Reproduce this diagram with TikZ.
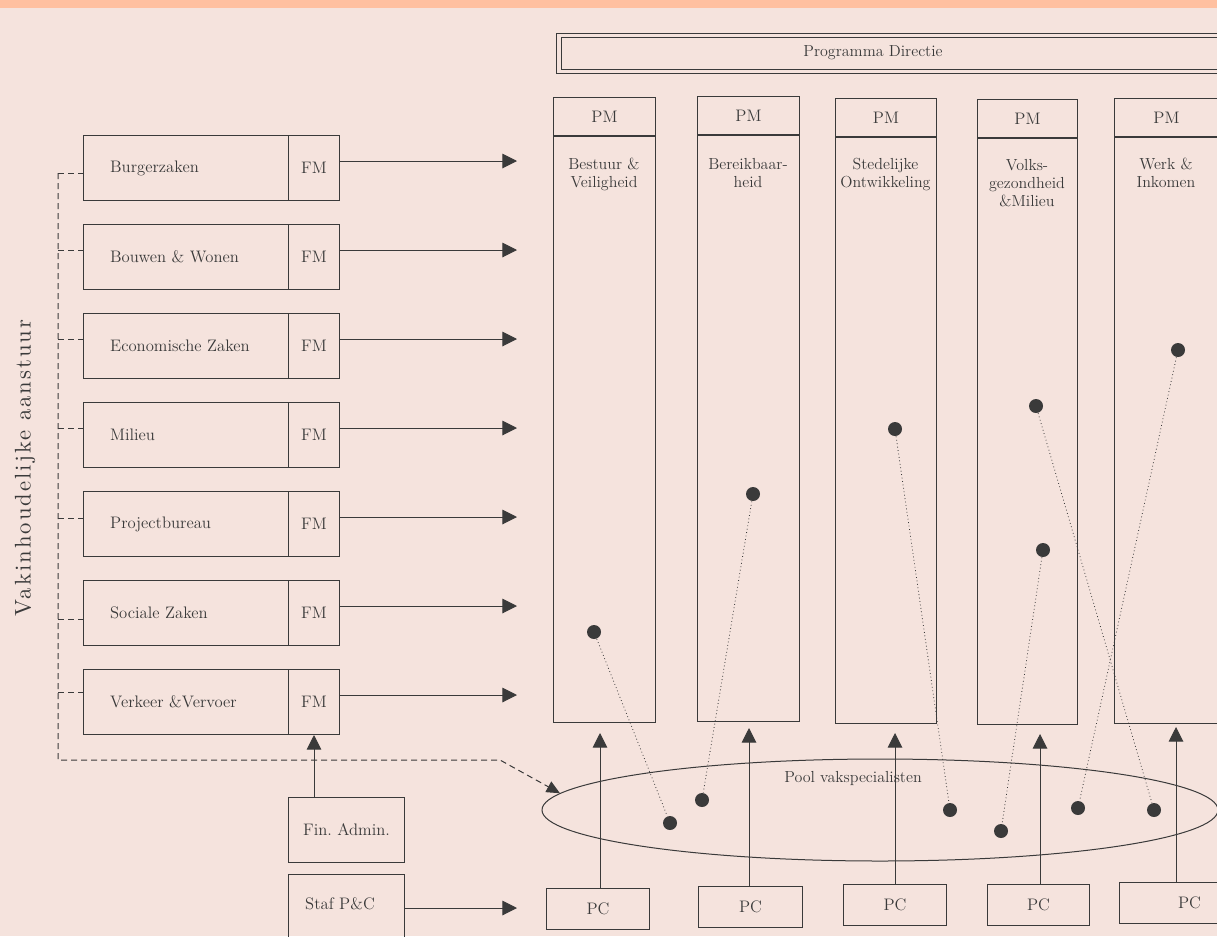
\documentclass[tikz,border=0pt]{standalone}
\usepackage{fontspec}
\usetikzlibrary{arrows.meta,shapes.geometric,positioning}

\definecolor{bgpink}{RGB}{245,227,221}
\definecolor{topband}{RGB}{255,192,160}
\definecolor{ink}{RGB}{58,58,58}
\newfontfamily\spacedfont{lmroman10-regular.otf}[LetterSpace=9]
\newcommand\boxfont{\fontsize{12.5}{14}\selectfont}
\newcommand\colfont{\fontsize{12}{13.5}\selectfont}
\newcommand\labfont{\spacedfont\fontsize{17}{20}\selectfont}

\tikzset{every picture/.style={line width=0.75pt}}

\begin{document}
\begin{tikzpicture}[x=0.75pt,y=0.75pt,yscale=-1,xscale=1,
  dept/.style={draw=ink,anchor=north west,minimum width=153.75pt,minimum height=48.75pt,text width=113.75pt,inner xsep=20pt,align=left,font=\boxfont,text=ink},
  fmbox/.style={draw=ink,anchor=north west,minimum width=38.25pt,minimum height=48.75pt,inner sep=0pt,font=\boxfont,text=ink},
  pmbox/.style={draw=ink,anchor=north west,minimum height=28.5pt,inner sep=0pt,font=\boxfont,text=ink},
  colbody/.style={draw=ink,anchor=north west,minimum height=439.5pt,inner sep=0pt},
  coltext/.style={anchor=north,align=center,inner sep=0pt,font=\colfont,text=ink},
  pcbox/.style={draw=ink,anchor=north west,minimum height=30.75pt,inner sep=0pt,font=\boxfont,text=ink},
  plain/.style={inner sep=0pt,font=\colfont,text=ink},
  arr/.style={draw=ink,-{Triangle[length=11pt,width=11pt]}},
  link/.style={draw=ink,dash pattern=on 4.5pt off 3pt},
  spec/.style={circle,fill=ink,minimum size=10.5pt,inner sep=0pt},
  tie/.style={draw=ink,line width=0.6pt,dotted}]

%Background and band
\useasboundingbox (0,0) rectangle (1217,936);
\fill[bgpink] (0,0) rectangle (1217,936);
\fill[topband] (0,0) rectangle (1217,8);

%Shape: Programma Directie
\node (pd) [draw=ink,double=bgpink,double distance=2.4pt,line width=0.8pt,anchor=north west,minimum width=511pt,minimum height=27pt] at (558.5,35) {};
\node (pdtxt) [plain] at (873,53) {Programma Directie};

%Shape: departments with FM
\foreach \lbl [count=\i] in {Burgerzaken,Bouwen \& Wonen,Economische Zaken,Milieu,Projectbureau,Sociale Zaken,Verkeer \&Vervoer}{
  \pgfmathsetmacro\yy{135+89*(\i-1)}
  \node (d\i) [dept] at (83,\yy) {\lbl};
  \node (f\i) [fmbox] at (288,\yy) {FM};
  \coordinate (a\i) at (517,\yy+26);
  \draw[arr] (f\i.east |- a\i) -- (a\i);
}

%Shape: programme columns
\foreach \i/\x/\t/\w/\ty/\lbl in {1/553/97/102/158/{Bestuur \&\\Veiligheid},2/697/96/102/158/{Bereikbaar-\\heid},3/835/98/101/158/{Stedelijke\\Ontwikkeling},4/977/99/100/159/{Volks-\\gezondheid\\\&Milieu},5/1114/98/104/158/{Werk \&\\Inkomen}}{
  \node (hd\i) [pmbox,minimum width=\w*0.75pt] at (\x,\t) {PM};
  \node (cb\i) [colbody,minimum width=\w*0.75pt] at (hd\i.south west) {};
  \draw[ink,line width=1.8pt] (hd\i.south west) -- (hd\i.south east);
  \node (ct\i) [coltext] at ({\x+\w/2},\ty) {\lbl};
}

%Vertical label and dashed bracket
\node (vlab) [rotate=90,font=\labfont,text=ink,inner sep=0pt] at (25,468) {Vakinhoudelijke aanstuur};
\foreach \i/\ty in {1/173,2/250,3/339,4/428,5/518,6/619,7/692}{
  \coordinate (k\i) at (58,\ty);
  \draw[link] (k\i) -- (k\i -| d\i.west);
}
\coordinate (kbot) at (58,760);
\coordinate (kbend) at (500,760);

%Shape: pool ellipse
\node (pool) [draw=ink,ellipse,minimum width=507pt,minimum height=76.5pt,inner sep=0pt] at (880,810) {};
\node (pooltxt) [plain] at (853,778) {Pool vakspecialisten};
\draw[link,-{Triangle[length=10pt,width=9pt]}] (k1) -- (kbot) -- (kbend) -- (pool.177.5);

%Fin. Admin. and Staf P&C
\node (fin) [pcbox,minimum width=87pt,minimum height=48.75pt] at (288,797) {Fin.\ Admin.};
\draw[arr] (fin.north -| f7.south) -- (f7.south);
\node (staf) [pcbox,minimum width=87pt,minimum height=64.5pt] at (288,874) {};
\node (staftxt) [plain,font=\boxfont] at (340,904) {Staf P\&C};
\coordinate (sa) at (517,908);
\draw[arr] (staf.east |- sa) -- (sa);

%Shape: PC boxes
\foreach \i/\x/\y/\w/\ux/\uy in {1/546/888/103/600/733,2/698/886/104/749/728,3/843/884/103/895/733,4/987/884/102/1040/734,5/1119/882/140/1176/727}{
  \node (pc\i) [pcbox,minimum width=\w*0.75pt] at (\x,\y) {PC};
  \coordinate (u\i) at (\ux,\uy);
  \draw[arr] (u\i |- pc\i.north) -- (u\i);
}

%Specialists
\foreach \i/\cx/\cy/\px/\py in {1/594/632/670/823,2/753/494/702/800,3/895/429/950/810,4/1043/550/1001/831,5/1036/406/1154/810,6/1178/350/1078/808}{
  \node (c\i) [spec] at (\cx,\cy) {};
  \node (p\i) [spec] at (\px,\py) {};
  \draw[tie] (c\i) -- (p\i);
}

\end{tikzpicture}
\end{document}
